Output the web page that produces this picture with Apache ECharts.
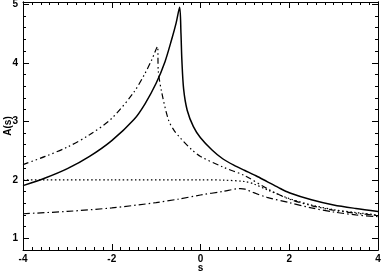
<!DOCTYPE html>
<html>
<head>
<meta charset="utf-8">
<script src="https://cdn.jsdelivr.net/npm/echarts@6/dist/echarts.min.js"></script>
<style>
  html, body { margin: 0; padding: 0; background: #fff; }
  #chart { width: 382px; height: 272px; }
</style>
</head>
<body>
<div id="chart"></div>
<script>
// solid curve
const solidX = [-4, -3.5, -3, -2.5, -2, -1.5, -1.25, -1.0, -0.8, -0.65, -0.55, -0.47,
                -0.44, -0.42, -0.38, -0.30, -0.16, 0, 0.26, 0.5, 0.75, 1.0, 1.25, 1.5, 1.75, 2.0, 2.5, 3.0, 3.5, 4.0];
const solidY = [1.90, 2.03, 2.19, 2.40, 2.67, 3.03, 3.30, 3.65, 4.02, 4.40, 4.68, 4.95,
                4.50, 4.05, 3.55, 3.19, 2.91, 2.72, 2.51, 2.36, 2.25, 2.16, 2.07, 1.97, 1.87, 1.78, 1.66, 1.57, 1.51, 1.46];
// dash-dot-dot curve
const dddX = [-4, -3.5, -3, -2.5, -2, -1.5, -1.25, -1.1, -0.97, -0.95, -0.87, -0.72, -0.6, -0.46, -0.19,
              0, 0.5, 1.0, 1.5, 2.0, 2.5, 3.0, 3.5, 4.0];
const dddY = [2.26, 2.40, 2.56, 2.77, 3.05, 3.50, 3.82, 4.05, 4.28, 3.85, 3.48, 3.02, 2.85, 2.72, 2.51,
              2.40, 2.22, 2.07, 1.85, 1.67, 1.56, 1.48, 1.43, 1.39];
// dotted curve
const dotX = [-4, -2, 0, 0.5, 1.0, 1.2, 1.5, 2.0, 2.5, 3.0, 3.5, 4.0];
const dotY = [2.0, 2.0, 2.0, 1.995, 1.97, 1.93, 1.83, 1.68, 1.57, 1.49, 1.44, 1.40];
// dash-dot curve
const ddX = [-4, -3, -2, -1, -0.5, 0, 0.5, 0.9, 1.0, 1.2, 1.5, 2.0, 2.5, 3.0, 3.5, 4.0];
const ddY = [1.42, 1.46, 1.52, 1.61, 1.67, 1.74, 1.80, 1.85, 1.84, 1.78, 1.70, 1.61, 1.52, 1.45, 1.40, 1.37];

const yLabels = [1, 2, 3, 4, 5];
const yMinor = [];
for (let v = 0.8; v < 5.05; v += 0.2) {
    const r = Math.round(v * 10) / 10;
    if (Math.abs(r - Math.round(r)) > 1e-6) yMinor.push(r);
}

const pairs = (xs, ys) => xs.map((x, i) => [x, ys[i]]);

const chart = echarts.init(document.getElementById('chart'));
const labelFont = { color: '#000', fontSize: 10, fontWeight: 'bold', fontFamily: 'Liberation Sans, Arial, sans-serif' };
// ticks vanish when the axis line is wider than 1
const axisLine = { show: true, onZero: false, lineStyle: { color: '#000', width: 1 } };

function yAxis(pos, major, showLabel) {
    return {
        type: 'value', position: pos, min: 0.8, max: 5.04,
        splitLine: { show: false },
        axisLine: axisLine,
        axisTick: { show: true, inside: true, length: major ? 6 : 3,
                    customValues: major ? yLabels : yMinor, lineStyle: { color: '#000', width: 1 } },
        axisLabel: Object.assign({ show: showLabel, customValues: yLabels, margin: 5 }, labelFont),
        name: showLabel ? 'A(s)' : '',
        nameLocation: 'middle', nameGap: 10, nameMoveOverlap: false, nameTextStyle: labelFont
    };
}
function xAxis(pos, showLabel) {
    return {
        type: 'value', position: pos, min: -4, max: 4, interval: 2,
        splitLine: { show: false },
        axisLine: axisLine,
        axisTick: { show: true, inside: true, length: 6, lineStyle: { color: '#000', width: 1 } },
        minorTick: { show: true, splitNumber: 10, length: 3, lineStyle: { color: '#000', width: 1 } },
        axisLabel: Object.assign({ show: showLabel, margin: 4 }, labelFont),
        name: showLabel ? 's' : '',
        nameLocation: 'middle', nameGap: 13, nameMoveOverlap: false, nameTextStyle: labelFont
    };
}

function line(data, type, width) {
    return {
        type: 'line', data: data, showSymbol: false, symbol: 'none', smooth: 0.3,
        xAxisIndex: 0, yAxisIndex: 0,
        lineStyle: { color: '#000', width: width, type: type }
    };
}

chart.setOption({
    animation: false,
    grid: { left: 23, right: 4, top: 2, bottom: 22, outerBoundsMode: 'none' },
    xAxis: [xAxis('bottom', true), xAxis('top', false)],
    yAxis: [yAxis('left', true, true), yAxis('left', false, false),
            yAxis('right', true, false), yAxis('right', false, false)],
    series: [
        line(pairs(solidX, solidY), 'solid', 1.5),
        line(pairs(dddX, dddY), [6, 3, 1.5, 3, 1.5, 3], 1.2),
        line(pairs(dotX, dotY), [1.5, 2.5], 1.2),
        line(pairs(ddX, ddY), [7, 3, 1.5, 3], 1.2)
    ]
});
</script>
</body>
</html>
